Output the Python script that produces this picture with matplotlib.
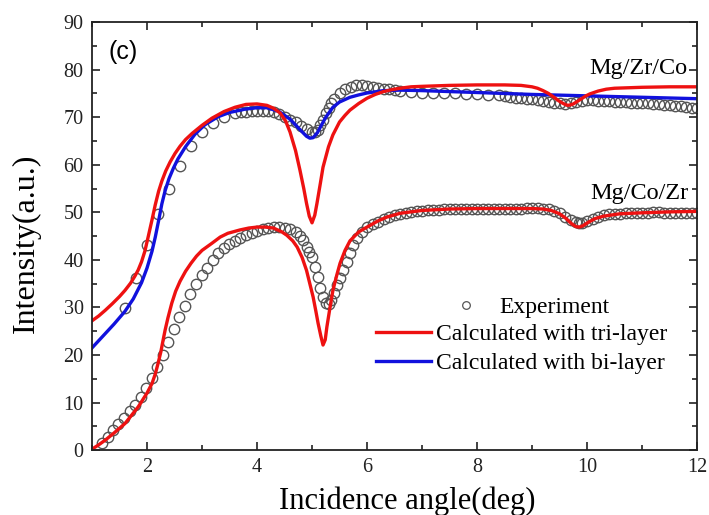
import matplotlib
matplotlib.use('Agg')
import matplotlib.pyplot as plt
from matplotlib.lines import Line2D
from matplotlib.ticker import MultipleLocator

# Mg/Zr/Co - experiment
exp_top_x = [1.6, 1.8, 2.0, 2.2, 2.4, 2.6, 2.8, 3.0, 3.2, 3.4,
             3.6, 3.7, 3.8, 3.9, 4.0, 4.1, 4.2, 4.3, 4.4, 4.5, 4.6, 4.7, 4.8, 4.9,
             5.0, 5.05, 5.1, 5.15, 5.2, 5.25, 5.3, 5.35, 5.4, 5.5, 5.6, 5.7, 5.8, 5.9,
             6.0, 6.1, 6.2, 6.3, 6.4, 6.5, 6.6, 6.8, 7.0, 7.2, 7.4, 7.6, 7.8, 8.0, 8.2,
             8.4, 8.5, 8.6, 8.7, 8.8, 8.9, 9.0, 9.1, 9.2, 9.3, 9.4, 9.5, 9.6, 9.7, 9.8,
             9.9, 10.0, 10.1, 10.2, 10.3, 10.4, 10.5, 10.6, 10.7, 10.8, 10.9, 11.0,
             11.1, 11.2, 11.3, 11.4, 11.5, 11.6, 11.7, 11.8, 11.9, 12.0]
exp_top_y = [29.9, 36.2, 43.1, 49.6, 54.9, 59.7, 64.0, 66.8, 68.8, 70.1,
             70.8, 71.0, 71.2, 71.3, 71.4, 71.4, 71.3, 71.0, 70.6, 70.1, 69.5, 68.9, 68.2, 67.5,
             67.0, 66.9, 67.4, 68.3, 69.5, 70.8, 72.0, 73.0, 73.9, 75.0, 75.9, 76.4, 76.7, 76.8,
             76.6, 76.4, 76.2, 76.0, 75.9, 75.8, 75.6, 75.3, 75.2, 75.1, 75.0, 75.0, 74.9, 74.9, 74.7,
             74.6, 74.4, 74.2, 74.1, 74.0, 73.9, 73.8, 73.7, 73.5, 73.3, 73.1, 72.9, 72.8, 72.9, 73.2,
             73.5, 73.6, 73.6, 73.5, 73.5, 73.4, 73.3, 73.3, 73.2, 73.1, 73.0, 72.9,
             72.9, 72.8, 72.7, 72.6, 72.5, 72.4, 72.3, 72.2, 72.0, 71.9]

# Mg/Co/Zr - experiment
exp_bot_x = [1.18, 1.29, 1.38, 1.47, 1.58, 1.69, 1.78, 1.89, 1.98, 2.09, 2.18, 2.29, 2.38,
             2.49, 2.58, 2.69, 2.78, 2.89, 3.0, 3.09, 3.2, 3.29, 3.4, 3.49, 3.6, 3.69, 3.8,
             3.9, 4.0, 4.1, 4.2, 4.3, 4.4, 4.5, 4.6, 4.7, 4.78, 4.84, 4.9, 4.95, 5.0, 5.05,
             5.1, 5.15, 5.2, 5.25, 5.3, 5.35, 5.4, 5.45, 5.5, 5.56, 5.63, 5.69, 5.75, 5.82,
             5.9, 6.0, 6.1, 6.2, 6.3, 6.4, 6.5, 6.6, 6.7, 6.8, 6.9, 7.0, 7.1, 7.2, 7.3, 7.4,
             7.5, 7.6, 7.7, 7.8, 7.9, 8.0, 8.1, 8.2, 8.3, 8.4, 8.5, 8.6, 8.7, 8.8, 8.9, 9.0,
             9.1, 9.2, 9.3, 9.4, 9.5, 9.6, 9.7, 9.8, 9.85, 9.9, 10.0, 10.1, 10.2, 10.3, 10.4,
             10.5, 10.6, 10.7, 10.8, 10.9, 11.0, 11.1, 11.2, 11.3, 11.4, 11.5, 11.6, 11.7,
             11.8, 11.9, 12.0]
exp_bot_y = [1.5, 2.7, 4.2, 5.5, 6.7, 8.2, 9.5, 11.2, 13.0, 15.1, 17.5, 20.0, 22.7,
             25.4, 28.0, 30.3, 32.8, 34.9, 36.8, 38.3, 39.9, 41.4, 42.5, 43.3, 44.0, 44.6, 45.2,
             45.7, 46.1, 46.5, 46.8, 47.0, 47.0, 46.8, 46.4, 45.8, 45.0, 44.2, 42.7, 41.6, 40.6, 38.5,
             36.4, 34.0, 32.2, 30.9, 30.7, 31.5, 33.0, 34.7, 36.2, 37.8, 39.5, 41.4, 43.1, 44.6,
             45.8, 46.9, 47.5, 48.0, 48.6, 49.1, 49.4, 49.7, 49.9, 50.1, 50.2, 50.3, 50.4, 50.5, 50.5, 50.6,
             50.6, 50.7, 50.7, 50.8, 50.8, 50.8, 50.7, 50.8, 50.8, 50.8, 50.7, 50.8, 50.8, 50.8, 50.9, 50.9,
             50.9, 50.8, 50.6, 50.3, 49.8, 49.1, 48.4, 47.9, 47.7, 47.8, 48.2, 48.7, 49.1, 49.4, 49.6,
             49.7, 49.7, 49.8, 49.8, 49.9, 49.9, 49.9, 50.0, 50.0, 49.9, 49.9, 49.9, 49.9,
             49.8, 49.8, 49.8]

# calculated curves
tri_top_x = [1.0, 1.12, 1.24, 1.37, 1.5, 1.6, 1.7, 1.78, 1.84, 1.9, 1.96, 2.02, 2.09, 2.15,
             2.21, 2.27, 2.34, 2.42, 2.51, 2.6, 2.7, 2.82, 3.0, 3.18, 3.4, 3.6, 3.8, 4.0, 4.18,
             4.3, 4.42, 4.52, 4.6, 4.7, 4.78, 4.85, 4.9, 4.95, 5.0, 5.05, 5.09, 5.15, 5.2, 5.3,
             5.38, 5.5, 5.6, 5.69, 5.85, 6.0, 6.15, 6.3, 6.45, 6.6, 6.8, 7.0, 7.5, 8.0, 8.5, 8.8,
             9.0, 9.1, 9.2, 9.3, 9.4, 9.48, 9.55, 9.6, 9.65, 9.7, 9.75, 9.82, 9.9, 9.98, 10.05,
             10.2, 10.35, 10.5, 10.75, 11.0, 11.5, 12.0]
tri_top_y = [27.2, 28.2, 29.4, 30.8, 32.3, 33.6, 35.1, 36.6, 37.9, 39.6, 41.8, 44.8, 48.4, 51.6,
             54.4, 56.6, 58.7, 60.6, 62.4, 63.9, 65.3, 66.6, 68.3, 69.8, 71.2, 72.1, 72.7, 72.8, 72.5,
             71.9, 70.9, 69.2, 66.9, 63.0, 58.9, 55.0, 51.9, 49.2, 47.8, 49.4, 51.9, 56.0, 59.5, 63.8,
             66.3, 69.0, 70.4, 71.5, 72.9, 74.0, 74.8, 75.4, 75.8, 76.1, 76.4, 76.5, 76.7, 76.8, 76.8, 76.7,
             76.4, 76.1, 75.6, 75.0, 74.2, 73.5, 73.0, 72.7, 72.5, 72.6, 72.8, 73.3, 73.9, 74.5, 74.9,
             75.5, 75.9, 76.1, 76.2, 76.3, 76.4, 76.4]

bi_top_x = [1.0, 1.12, 1.24, 1.4, 1.6, 1.75, 1.9, 2.0, 2.09, 2.15, 2.22, 2.27, 2.33, 2.4,
            2.48, 2.56, 2.7, 2.87, 3.05, 3.29, 3.5, 3.78, 4.0, 4.18, 4.4, 4.6, 4.78, 4.9, 4.96,
            5.02, 5.1, 5.15, 5.25, 5.38, 5.5, 5.69, 5.85, 6.0, 6.3, 6.6, 7.0, 8.0, 9.0, 10.0,
            11.0, 12.0]
bi_top_y = [21.5, 23.0, 24.5, 26.5, 29.2, 31.8, 35.2, 38.3, 41.8, 44.8, 48.8, 51.8, 54.6, 57.1,
            59.3, 61.2, 63.8, 66.4, 68.4, 70.1, 71.0, 71.7, 72.0, 72.0, 71.2, 69.6, 67.4, 66.0, 65.6,
            65.7, 66.8, 67.9, 70.0, 72.1, 73.2, 74.2, 74.7, 75.1, 75.6, 75.7, 75.6, 75.2, 74.8, 74.5,
            74.2, 73.9]

tri_bot_x = [1.0, 1.12, 1.24, 1.4, 1.6, 1.84, 2.0, 2.09, 2.15, 2.2, 2.25, 2.29, 2.33, 2.38,
             2.45, 2.52, 2.6, 2.7, 2.8, 2.9, 3.0, 3.18, 3.33, 3.47, 3.69, 3.85, 4.0, 4.15, 4.3,
             4.45, 4.54, 4.65, 4.73, 4.82, 4.9, 4.96, 5.02, 5.07, 5.11, 5.16, 5.2, 5.24, 5.27,
             5.32, 5.38, 5.45, 5.51, 5.6, 5.69, 5.85, 6.0, 6.2, 6.36, 6.6, 7.0, 7.5, 8.0, 8.5,
             9.0, 9.2, 9.35, 9.5, 9.62, 9.72, 9.8, 9.86, 9.93, 10.02, 10.15, 10.3, 10.6, 11.0,
             11.5, 12.0]
tri_bot_y = [0.2, 1.1, 2.1, 3.6, 5.6, 9.1, 12.0, 14.0, 16.0, 18.2, 20.6, 23.0, 25.3, 27.8,
             30.9, 33.4, 35.5, 37.6, 39.3, 40.8, 42.0, 43.5, 44.8, 45.6, 46.3, 46.7, 46.9, 46.9, 46.7,
             45.9, 45.2, 44.0, 42.7, 40.5, 37.8, 35.0, 32.2, 29.2, 26.7, 24.0, 22.1, 23.2, 25.9,
             29.5, 33.6, 36.8, 39.3, 42.0, 44.0, 45.9, 46.9, 48.2, 49.0, 49.8, 50.4, 50.7, 50.8, 50.8,
             50.8, 50.7, 50.4, 49.7, 48.7, 47.6, 47.0, 46.9, 47.2, 47.9, 48.7, 49.2, 49.7, 49.9,
             50.1, 50.2]

serif = 'Liberation Serif'
red = '#ee1111'
blue = '#1111dd'

fig = plt.figure(figsize=(7.09, 5.15), dpi=100)
ax = fig.add_axes([0.1298, 0.126, 0.8533, 0.831])

mk = dict(linestyle='none', marker='o', markersize=7.5, markerfacecolor='none',
          markeredgecolor='#555555', markeredgewidth=1.0)
ax.plot(exp_top_x, exp_top_y, **mk)
ax.plot(exp_bot_x, exp_bot_y, **mk)
ax.plot(bi_top_x, bi_top_y, color=blue, lw=2.4, solid_joinstyle='round')
ax.plot(tri_top_x, tri_top_y, color=red, lw=2.4, solid_joinstyle='round')
ax.plot(tri_bot_x, tri_bot_y, color=red, lw=2.4, solid_joinstyle='round')

ax.set_xlim(1, 12)
ax.set_ylim(0, 90)
ax.xaxis.set_major_locator(MultipleLocator(2))
ax.xaxis.set_minor_locator(MultipleLocator(1))
ax.yaxis.set_major_locator(MultipleLocator(10))
ax.yaxis.set_minor_locator(MultipleLocator(5))
ax.tick_params(which='both', direction='in', top=True, right=True, width=1.2, colors='#222222')
ax.tick_params(which='major', length=6, labelsize=14.5, pad=6)
ax.tick_params(which='minor', length=3.5)
for lab in ax.get_xticklabels() + ax.get_yticklabels():
    lab.set_fontfamily(serif)
for sp in ax.spines.values():
    sp.set_linewidth(1.3)
    sp.set_color('#222222')

ax.set_xlabel('Incidence angle(deg)', fontfamily=serif, fontsize=22)
ax.xaxis.set_label_coords(0.5215, -0.086)
ax.set_ylabel('Intensity(a.u.)', fontfamily=serif, fontsize=23)
ax.yaxis.set_label_coords(-0.085, 0.4825)

ax.text(1.3, 83.7, '(c)', fontfamily='Liberation Sans', fontsize=18, va='center')
ax.text(11.82, 80.3, 'Mg/Zr/Co', fontfamily=serif, fontsize=17.5, ha='right', va='center')
ax.text(11.84, 54.0, 'Mg/Co/Zr', fontfamily=serif, fontsize=17.5, ha='right', va='center')

# legend: marker row and line rows
h_exp = [Line2D([], [], linestyle='none', marker='o', markersize=5.5, markerfacecolor='none',
                markeredgecolor='#555555', markeredgewidth=0.9)]
leg1 = ax.legend(h_exp, ['Experiment'], loc='center left', bbox_to_anchor=(0.598, 0.334),
                 frameon=False, prop={'family': serif, 'size': 17}, borderpad=0,
                 borderaxespad=0, handlelength=1.0, handletextpad=0.95)
ax.add_artist(leg1)
h_lines = [Line2D([], [], color=red, lw=2.4), Line2D([], [], color=blue, lw=2.4)]
ax.legend(h_lines, ['Calculated with tri-layer', 'Calculated with bi-layer'], loc='center left',
          bbox_to_anchor=(0.469, 0.237), frameon=False, prop={'family': serif, 'size': 17},
          borderpad=0, borderaxespad=0, handlelength=2.35, handletextpad=0.2, labelspacing=0.33)

fig.savefig('out.png', dpi=100)
